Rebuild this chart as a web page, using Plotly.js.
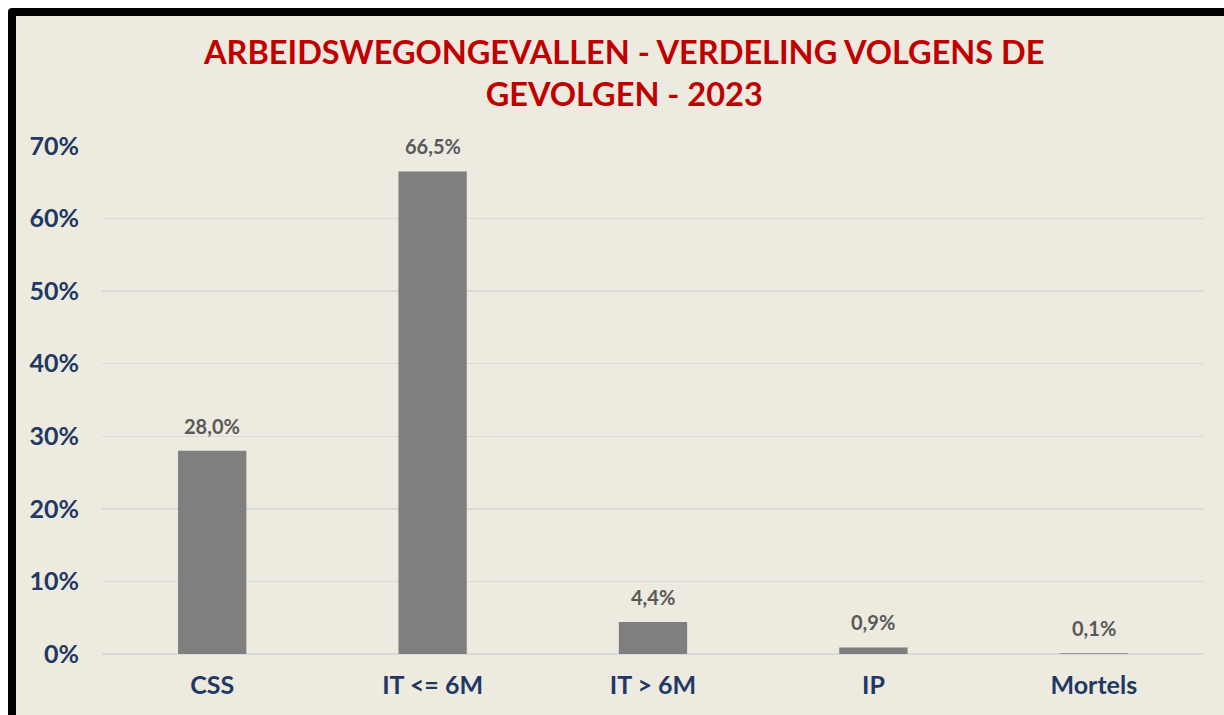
<!DOCTYPE html>
<html>
<head>
<meta charset="utf-8">
<script src="https://cdn.plot.ly/plotly-3.0.1.min.js"></script>
<style>
  html, body { margin: 0; padding: 0; background: #ffffff; width: 1224px; height: 715px; overflow: hidden; }
  #frame { position: absolute; left: 8px; top: 8px; width: 1216px; height: 707px; background: #000; border-top-left-radius: 4px; }
  #chart { position: absolute; left: 16px; top: 16px; width: 1208px; height: 699px; }
</style>
</head>
<body>
<div id="frame"></div>
<div id="chart"></div>
<script>
const categories = ["CSS", "IT <= 6M", "IT > 6M", "IP", "Mortels"];
const values = [28.0, 66.5, 4.4, 0.9, 0.1];
const yTicks = [0, 10, 20, 30, 40, 50, 60, 70];
const chartTitle = "ARBEIDSWEGONGEVALLEN - VERDELING VOLGENS DE<br>GEVOLGEN - 2023";

const fontFam = "Lato, 'Open Sans', sans-serif";
const labels = values.map(v => v.toFixed(1).replace('.', ',') + '%');

const annotations = categories.map((c, i) => ({
  x: c, y: values[i], xref: 'x', yref: 'y',
  text: labels[i], showarrow: false,
  yanchor: 'middle', yshift: 25,
  font: { family: fontFam, size: 20, color: '#595959', weight: 'bold' }
}));

const trace = {
  type: 'bar',
  x: categories,
  y: values,
  marker: { color: '#7F7F7F' },
  width: 0.31,
  hoverinfo: 'none'
};

const layout = {
  width: 1208, height: 699,
  paper_bgcolor: '#EDEAE0',
  plot_bgcolor: '#EDEAE0',
  margin: { l: 86, r: 20, t: 130, b: 61 },
  title: {
    text: chartTitle,
    x: 0.5035, xanchor: 'center', xref: 'container',
    y: 0.932, yanchor: 'top', yref: 'container',
    font: { family: fontFam, size: 32.5, color: '#C00000', weight: 'bold' }
  },
  showlegend: false,
  xaxis: {
    type: 'category',
    showgrid: false, zeroline: false, showline: false,
    ticks: '',
    ticklabelstandoff: 14,
    tickfont: { family: fontFam, size: 25, color: '#1F3864', weight: 'bold' }
  },
  yaxis: {
    range: [0, 70],
    tickvals: yTicks,
    ticktext: yTicks.map(t => t + '%'),
    showgrid: true, gridcolor: '#D9D9D9', gridwidth: 1.5,
    zeroline: true, zerolinecolor: '#D9D9D9', zerolinewidth: 1.5,
    showline: false, ticks: '',
    ticklabelstandoff: 22,
    tickfont: { family: fontFam, size: 25, color: '#1F3864', weight: 'bold' }
  },
  annotations: annotations
};

Plotly.newPlot('chart', [trace], layout, { displayModeBar: false, staticPlot: true });
</script>
</body>
</html>
